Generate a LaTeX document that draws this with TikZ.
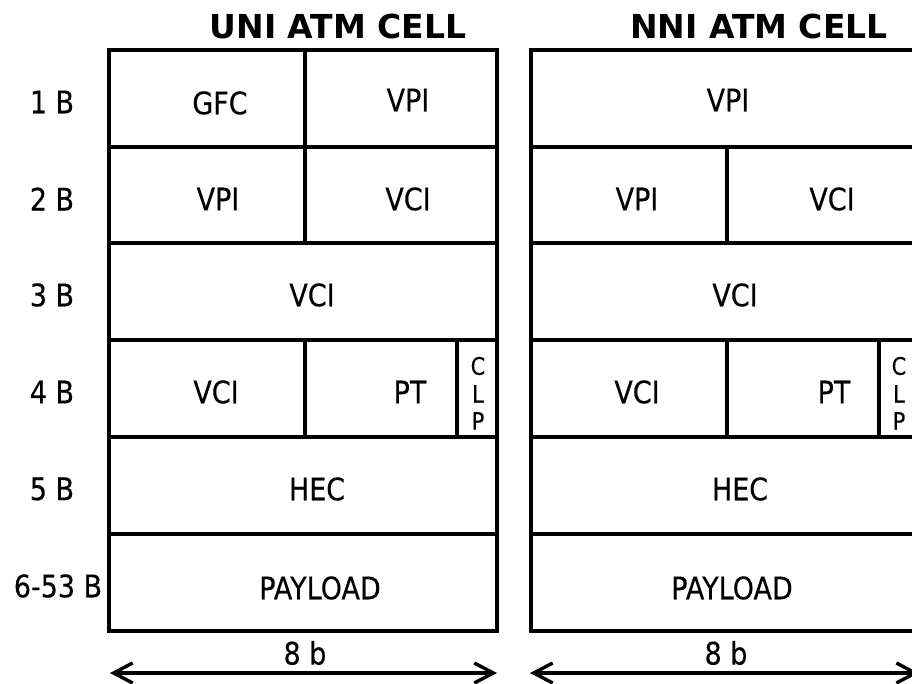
\documentclass[tikz,border=0pt]{standalone}
\usepackage{fontspec}
\setmainfont{DejaVu Sans}[FakeStretch=0.87,FakeBold=0.3]
\newfontfamily\ttlfont{DejaVu Sans}
\usetikzlibrary{arrows.meta}
\tikzset{
  cell/.style={draw, line width=3.4pt, inner sep=0pt, outer sep=0pt, anchor=north west},
  lbl/.style={font=\fontsize{31}{36}\selectfont, inner sep=0pt},
  clp/.style={font=\fontsize{24}{28}\selectfont, inner sep=0pt},
  ttl/.style={font=\ttlfont\bfseries\fontsize{33}{38}\selectfont, inner sep=0pt},
  dimarrow/.style={line width=3.4pt, {Straight Barb[length=19pt,width=20pt]}-{Straight Barb[length=19pt,width=20pt]}}
}
\newcommand{\mycell}[5]{\node[cell, minimum width=#4pt-#2pt, minimum height=#5pt-#3pt] (#1) at (#2,#3) {};}
\begin{document}
\begin{tikzpicture}[x=1pt,y=-1pt]
\useasboundingbox (0,0) rectangle (912,684);
\clip (0,0) rectangle (912,684);
% titles
\node[ttl] (t1) at (338,26) {UNI ATM CELL};
\node[ttl] (t2) at (759,26) {NNI ATM CELL};
% row labels
\node[lbl] (r1) at (52,102) {1 B};
\node[lbl] (r2) at (52,199) {2 B};
\node[lbl] (r3) at (52,295) {3 B};
\node[lbl] (r4) at (52,392) {4 B};
\node[lbl] (r5) at (52,489) {5 B};
\node[lbl] (r6) at (58,586) {6-53 B};
% UNI cells
\mycell{ua}{109}{50}{305}{147}
\mycell{ub}{305}{50}{497}{147}
\mycell{uc}{109}{147}{305}{243}
\mycell{ud}{305}{147}{497}{243}
\mycell{ue}{109}{243}{497}{340}
\mycell{uf}{109}{340}{305}{437}
\mycell{ug}{305}{340}{457}{437}
\mycell{uh}{457}{340}{497}{437}
\mycell{ui}{109}{437}{497}{534}
\mycell{uj}{109}{534}{497}{631}
% NNI cells
\mycell{na}{531}{50}{919}{147}
\mycell{nc}{531}{147}{727}{243}
\mycell{nd}{727}{147}{919}{243}
\mycell{ne}{531}{243}{919}{340}
\mycell{nf}{531}{340}{727}{437}
\mycell{ng}{727}{340}{879}{437}
\mycell{nh}{879}{340}{919}{437}
\mycell{ni}{531}{437}{919}{534}
\mycell{nj}{531}{534}{919}{631}
% UNI texts
\node[lbl] (xa) at (220,103) {GFC};
\node[lbl] (xb) at (408,100) {VPI};
\node[lbl] (xc) at (218,199) {VPI};
\node[lbl] (xd) at (408,199) {VCI};
\node[lbl] (xe) at (312,295) {VCI};
\node[lbl] (xf) at (216,392) {VCI};
\node[lbl] (xg) at (410,392) {PT};
\node[clp] (xh1) at (478,366) {C};
\node[clp] (xh2) at (478,394) {L};
\node[clp] (xh3) at (478,421) {P};
\node[lbl] (xi) at (317,489) {HEC};
\node[lbl] (xj) at (320,588) {PAYLOAD};
% NNI texts
\node[lbl] (ya) at (728,100) {VPI};
\node[lbl] (yc) at (637,199) {VPI};
\node[lbl] (yd) at (832,199) {VCI};
\node[lbl] (ye) at (735,295) {VCI};
\node[lbl] (yf) at (637,392) {VCI};
\node[lbl] (yg) at (834,392) {PT};
\node[clp] (yh1) at (899,366) {C};
\node[clp] (yh2) at (899,394) {L};
\node[clp] (yh3) at (899,421) {P};
\node[lbl] (yi) at (740,489) {HEC};
\node[lbl] (yj) at (732,588) {PAYLOAD};
% dimension arrows
\coordinate (al1) at (110,673);
\coordinate (al2) at (497,673);
\coordinate (ar1) at (530,673);
\coordinate (ar2) at (919,673);
\draw[dimarrow] (al1) -- (al2);
\draw[dimarrow] (ar1) -- (ar2);
\node[lbl] (bl) at (305,653) {8 b};
\node[lbl] (br) at (726,653) {8 b};
\end{tikzpicture}
\end{document}
